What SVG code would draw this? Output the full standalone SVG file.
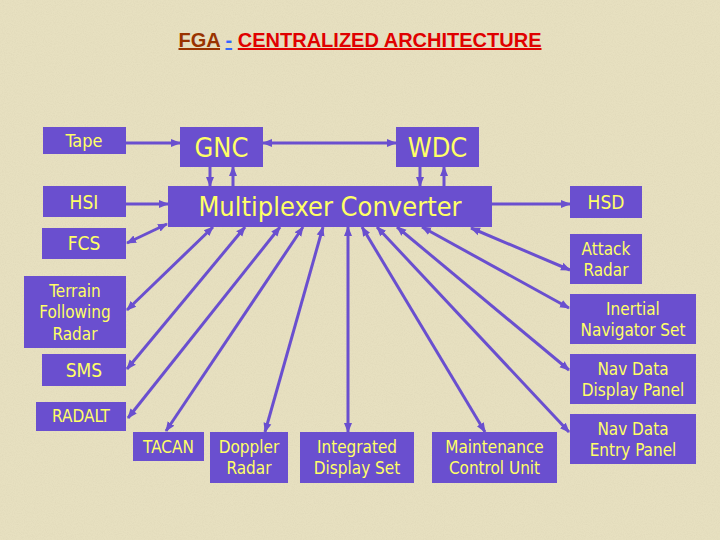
<svg xmlns="http://www.w3.org/2000/svg" width="720" height="540" viewBox="0 0 720 540">
<defs>
<style>
.box{fill:#6A4FCF}
.t{fill:#FFFF66;font-family:"DejaVu Sans Condensed","DejaVu Sans",sans-serif;text-anchor:middle}
.s{font-size:17px}
.m{font-size:19px}
.b{font-size:27px}
.c line{stroke:#6A4FCF;stroke-width:3;marker-end:url(#ah)}
.c line.d{marker-start:url(#ah)}
</style>
<marker id="ah" viewBox="0 0 10 10" refX="9" refY="5" markerWidth="10" markerHeight="10" markerUnits="userSpaceOnUse" orient="auto-start-reverse">
<path d="M0,1 L10,5 L0,9 z" fill="#6A4FCF"/>
</marker>
<filter id="tex" x="0" y="0" width="100%" height="100%">
<feTurbulence type="fractalNoise" baseFrequency="0.9" numOctaves="2" seed="3" result="n"/>
<feColorMatrix in="n" type="matrix" values="0 0 0 0 0.55  0 0 0 0 0.5  0 0 0 0 0.35  0 0 0 -1.2 0.75" result="c"/>
<feComposite in="c" in2="SourceGraphic" operator="in"/>
</filter>
</defs>
<rect width="720" height="540" fill="#E7E0C0"/>
<rect width="720" height="540" fill="#E7E0C0" filter="url(#tex)" opacity="0.25"/>

<text x="360" y="47" text-anchor="middle" style="font-family:'Liberation Sans',Arial,sans-serif;font-weight:bold;font-size:20px"><tspan fill="#993300" text-decoration="underline">FGA</tspan> <tspan fill="#3366FF" text-decoration="underline">-</tspan> <tspan fill="#E00000" text-decoration="underline">CENTRALIZED ARCHITECTURE</tspan></text>

<g class="c" id="connectors">
<line x1="126" y1="143" x2="180" y2="143"/>
<line class="d" x1="263" y1="143" x2="396" y2="143"/>
<line x1="210" y1="167" x2="210" y2="186"/>
<line x1="233" y1="186" x2="233" y2="167"/>
<line x1="420" y1="167" x2="420" y2="186"/>
<line x1="444" y1="186" x2="444" y2="167"/>
<line x1="126" y1="204" x2="168" y2="204"/>
<line x1="492" y1="204" x2="570" y2="204"/>
<line class="d" x1="167" y1="224" x2="127" y2="243"/>
<line class="d" x1="471" y1="228" x2="570" y2="270"/>
<line class="d" x1="213" y1="227" x2="127" y2="310"/>
<line class="d" x1="245" y1="227" x2="127" y2="369"/>
<line class="d" x1="280" y1="227" x2="128" y2="418"/>
<line class="d" x1="303" y1="227" x2="166" y2="431"/>
<line class="d" x1="323" y1="227" x2="265" y2="432"/>
<line class="d" x1="348" y1="227" x2="348" y2="432"/>
<line class="d" x1="362" y1="227" x2="485" y2="432"/>
<line class="d" x1="377" y1="227" x2="569" y2="432"/>
<line class="d" x1="397" y1="227" x2="569" y2="370"/>
<line class="d" x1="422" y1="227" x2="569" y2="308"/>
</g>

<g id="tape"><rect class="box" x="43" y="127" width="83" height="27"/><text class="t" style="font-size:18px" x="84" y="147">Tape</text></g>
<g id="gnc"><rect class="box" x="180" y="127" width="83" height="40"/><text class="t b" x="221.5" y="157">GNC</text></g>
<g id="wdc"><rect class="box" x="396" y="127" width="83" height="40"/><text class="t b" x="437.5" y="157">WDC</text></g>
<g id="hsi"><rect class="box" x="43" y="186" width="83" height="31"/><text class="t m" x="84" y="209">HSI</text></g>
<g id="mux"><rect class="box" x="168" y="186" width="324" height="41"/><text class="t b" x="330" y="216">Multiplexer Converter</text></g>
<g id="hsd"><rect class="box" x="570" y="186" width="72" height="32"/><text class="t m" x="606" y="209">HSD</text></g>
<g id="fcs"><rect class="box" x="42" y="228" width="84" height="31"/><text class="t m" x="84" y="250">FCS</text></g>
<g id="attack"><rect class="box" x="570" y="234" width="72" height="50"/><text class="t s" x="606" y="255">Attack</text><text class="t s" x="606" y="276">Radar</text></g>
<g id="tfr"><rect class="box" x="24" y="276" width="102" height="72"/><text class="t s" x="75" y="297">Terrain</text><text class="t s" x="75" y="318">Following</text><text class="t s" x="75" y="340">Radar</text></g>
<g id="ins"><rect class="box" x="570" y="294" width="126" height="50"/><text class="t s" x="633" y="315">Inertial</text><text class="t s" x="633" y="336">Navigator Set</text></g>
<g id="sms"><rect class="box" x="42" y="354" width="84" height="32"/><text class="t m" x="84" y="377">SMS</text></g>
<g id="nddp"><rect class="box" x="570" y="354" width="126" height="50"/><text class="t s" x="633" y="375">Nav Data</text><text class="t s" x="633" y="396">Display Panel</text></g>
<g id="radalt"><rect class="box" x="36" y="402" width="90" height="29"/><text class="t s" x="81" y="422">RADALT</text></g>
<g id="tacan"><rect class="box" x="133" y="432" width="71" height="29"/><text class="t s" x="168.5" y="453">TACAN</text></g>
<g id="doppler"><rect class="box" x="210" y="432" width="78" height="51"/><text class="t s" x="249" y="453">Doppler</text><text class="t s" x="249" y="474">Radar</text></g>
<g id="ids"><rect class="box" x="300" y="432" width="114" height="51"/><text class="t s" x="357" y="453">Integrated</text><text class="t s" x="357" y="474">Display Set</text></g>
<g id="mcu"><rect class="box" x="432" y="432" width="125" height="51"/><text class="t s" x="494.5" y="453">Maintenance</text><text class="t s" x="494.5" y="474">Control Unit</text></g>
<g id="ndep"><rect class="box" x="570" y="414" width="126" height="50"/><text class="t s" x="633" y="435">Nav Data</text><text class="t s" x="633" y="456">Entry Panel</text></g>
</svg>
